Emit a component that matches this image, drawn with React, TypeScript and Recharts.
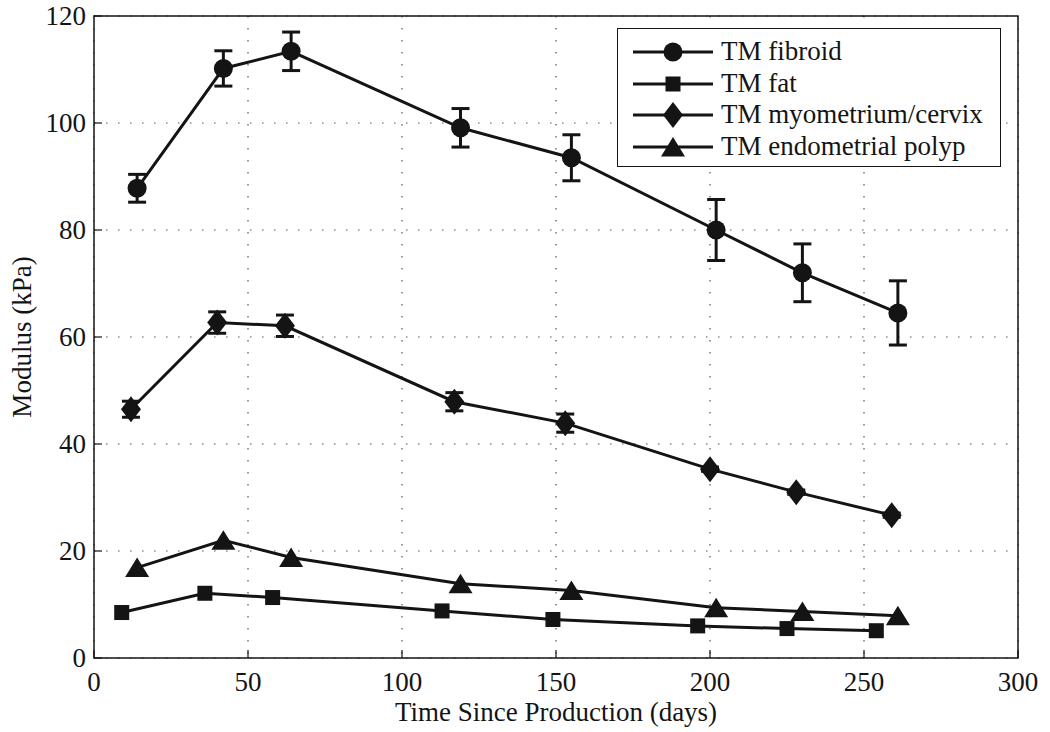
import React from "react";
import {
  CartesianGrid,
  ErrorBar,
  Legend,
  Line,
  LineChart,
  ReferenceArea,
  XAxis,
  YAxis,
} from "recharts";

// values (days since production vs modulus in kPa)
const fibroidDays = [14, 42, 64, 119, 155, 202, 230, 261];
const fibroidMod = [87.8, 110.2, 113.4, 99.1, 93.5, 80.0, 72.0, 64.5];
const fibroidErr = [2.6, 3.3, 3.6, 3.6, 4.3, 5.7, 5.4, 6.0];

const fatDays = [9, 36, 58, 113, 149, 196, 225, 254];
const fatMod = [8.5, 12.1, 11.3, 8.8, 7.2, 6.0, 5.5, 5.1];

const myoDays = [12, 40, 62, 117, 153, 200, 228, 259];
const myoMod = [46.5, 62.7, 62.1, 47.9, 43.9, 35.3, 31.0, 26.7];
const myoErr = [1.5, 2.0, 2.0, 1.7, 1.7, 0.4, 0.4, 0.4];

const polypDays = [14, 42, 64, 119, 155, 202, 230, 261];
const polypMod = [16.9, 22.0, 18.8, 13.9, 12.6, 9.4, 8.7, 7.9];

const xTicks = [0, 50, 100, 150, 200, 250, 300];
const yTicks = [0, 20, 40, 60, 80, 100, 120];

const FONT = '"Liberation Serif", "Times New Roman", serif';
const INK = "#141414";

type Shape = "circle" | "square" | "diamond" | "triangle";

type Pt = { x: number; y: number; err?: number };

const build = (days: number[], vals: number[], errs?: number[]): Pt[] =>
  days.map((d, i) => ({ x: d, y: vals[i], err: errs ? errs[i] : undefined }));

const series: { name: string; shape: Shape; data: Pt[]; hasErr: boolean }[] = [
  { name: "TM fibroid", shape: "circle", data: build(fibroidDays, fibroidMod, fibroidErr), hasErr: true },
  { name: "TM fat", shape: "square", data: build(fatDays, fatMod), hasErr: false },
  { name: "TM myometrium/cervix", shape: "diamond", data: build(myoDays, myoMod, myoErr), hasErr: true },
  { name: "TM endometrial polyp", shape: "triangle", data: build(polypDays, polypMod), hasErr: false },
];

function marker(shape: Shape, cx: number, cy: number, key?: string | number) {
  if (shape === "circle") return <circle key={key} cx={cx} cy={cy} r={9.5} fill={INK} />;
  if (shape === "square")
    return <rect key={key} x={cx - 7.5} y={cy - 7.5} width={15} height={15} fill={INK} />;
  if (shape === "diamond")
    return (
      <path
        key={key}
        d={`M${cx},${cy - 13} L${cx + 10},${cy} L${cx},${cy + 13} L${cx - 10},${cy} Z`}
        fill={INK}
      />
    );
  return (
    <path
      key={key}
      d={`M${cx},${cy - 10} L${cx + 12},${cy + 9.5} L${cx - 12},${cy + 9.5} Z`}
      fill={INK}
    />
  );
}

const textStyle = { fontFamily: FONT, fontSize: 27, fill: INK };

const BottomTick = (p: any) => (
  <g>
    <line x1={p.x} y1={p.y} x2={p.x} y2={p.y - 8} stroke={INK} strokeWidth={1.2} />
    <text x={p.x} y={p.y + 33} textAnchor="middle" style={textStyle}>
      {p.payload.value}
    </text>
  </g>
);

const TopTick = (p: any) => (
  <line x1={p.x} y1={p.y} x2={p.x} y2={p.y + 8} stroke={INK} strokeWidth={1.2} />
);

const LeftTick = (p: any) => (
  <g>
    <line x1={p.x} y1={p.y} x2={p.x + 8} y2={p.y} stroke={INK} strokeWidth={1.2} />
    <text x={p.x - 8} y={p.y} dy="0.34em" textAnchor="end" style={textStyle}>
      {p.payload.value}
    </text>
  </g>
);

const RightTick = (p: any) => (
  <line x1={p.x} y1={p.y} x2={p.x - 8} y2={p.y} stroke={INK} strokeWidth={1.2} />
);

const XLabel = (props: any) => {
  const vb = props.viewBox;
  return (
    <text x={vb.x + vb.width / 2} y={vb.y + 63} textAnchor="middle" style={textStyle}>
      Time Since Production (days)
    </text>
  );
};

const YLabel = (props: any) => {
  const vb = props.viewBox;
  const cx = vb.x + 22;
  const cy = vb.y + vb.height / 2;
  return (
    <text
      x={cx}
      y={cy}
      transform={`rotate(-90 ${cx} ${cy})`}
      textAnchor="middle"
      dominantBaseline="central"
      style={textStyle}
    >
      Modulus (kPa)
    </text>
  );
};

const LegendBox = () => (
  <div
    style={{
      width: 384,
      height: 139,
      boxSizing: "border-box",
      border: `1.5px solid ${INK}`,
      background: "#fff",
      paddingTop: 7,
      fontFamily: FONT,
      fontSize: 27,
      color: INK,
    }}
  >
    {series.map((s) => (
      <div key={s.name} style={{ display: "flex", alignItems: "center", height: 31.7 }}>
        <svg width={100} height={30} style={{ flex: "none" }}>
          <line x1={15} y1={15} x2={95} y2={15} stroke={INK} strokeWidth={3} />
          {marker(s.shape, 55, 15)}
        </svg>
        <span style={{ marginLeft: 3, lineHeight: "31.7px", whiteSpace: "nowrap" }}>{s.name}</span>
      </div>
    ))}
  </div>
);

export default function App() {
  return (
    <div style={{ position: "absolute", left: 0, top: 0, background: "#fff" }}>
      <LineChart width={1050} height={732} margin={{ top: 16, right: 32, bottom: 0, left: 0 }}>
        <CartesianGrid stroke="#555" strokeWidth={1.2} strokeDasharray="1.5 10.5" />
        <XAxis
          dataKey="x"
          type="number"
          domain={[0, 300]}
          ticks={xTicks}
          allowDataOverflow
          height={74}
          axisLine={false}
          tickLine={false}
          tickSize={0}
          tickMargin={0}
          tick={BottomTick}
          label={XLabel}
        />
        <XAxis
          xAxisId="top"
          orientation="top"
          dataKey="x"
          type="number"
          domain={[0, 300]}
          ticks={xTicks}
          allowDataOverflow
          height={0}
          axisLine={false}
          tickLine={false}
          tickSize={0}
          tickMargin={0}
          tick={TopTick}
        />
        <YAxis
          type="number"
          domain={[0, 120]}
          ticks={yTicks}
          allowDataOverflow
          width={94}
          axisLine={false}
          tickLine={false}
          tickSize={0}
          tickMargin={0}
          tick={LeftTick}
          label={YLabel}
        />
        <YAxis
          yAxisId="right"
          orientation="right"
          type="number"
          domain={[0, 120]}
          ticks={yTicks}
          allowDataOverflow
          width={0}
          axisLine={false}
          tickLine={false}
          tickSize={0}
          tickMargin={0}
          tick={RightTick}
        />
        <ReferenceArea x1={0} x2={300} y1={0} y2={120} fill="none" stroke={INK} strokeWidth={1.5} />
        {series.map((s) => (
          <Line
            key={s.name}
            name={s.name}
            data={s.data}
            dataKey="y"
            type="linear"
            stroke={INK}
            strokeWidth={3}
            isAnimationActive={false}
            activeDot={false}
            dot={(p: any) => marker(s.shape, p.cx, p.cy, `${s.name}-${p.index}`)}
          >
            {s.hasErr && (
              <ErrorBar dataKey="err" direction="y" width={9} strokeWidth={3} stroke={INK} isAnimationActive={false} />
            )}
          </Line>
        ))}
        <Legend
          layout="vertical"
          align="center"
          verticalAlign="middle"
          content={LegendBox}
          wrapperStyle={{ top: 28, left: 617, width: 384, height: 139 }}
        />
      </LineChart>
    </div>
  );
}
